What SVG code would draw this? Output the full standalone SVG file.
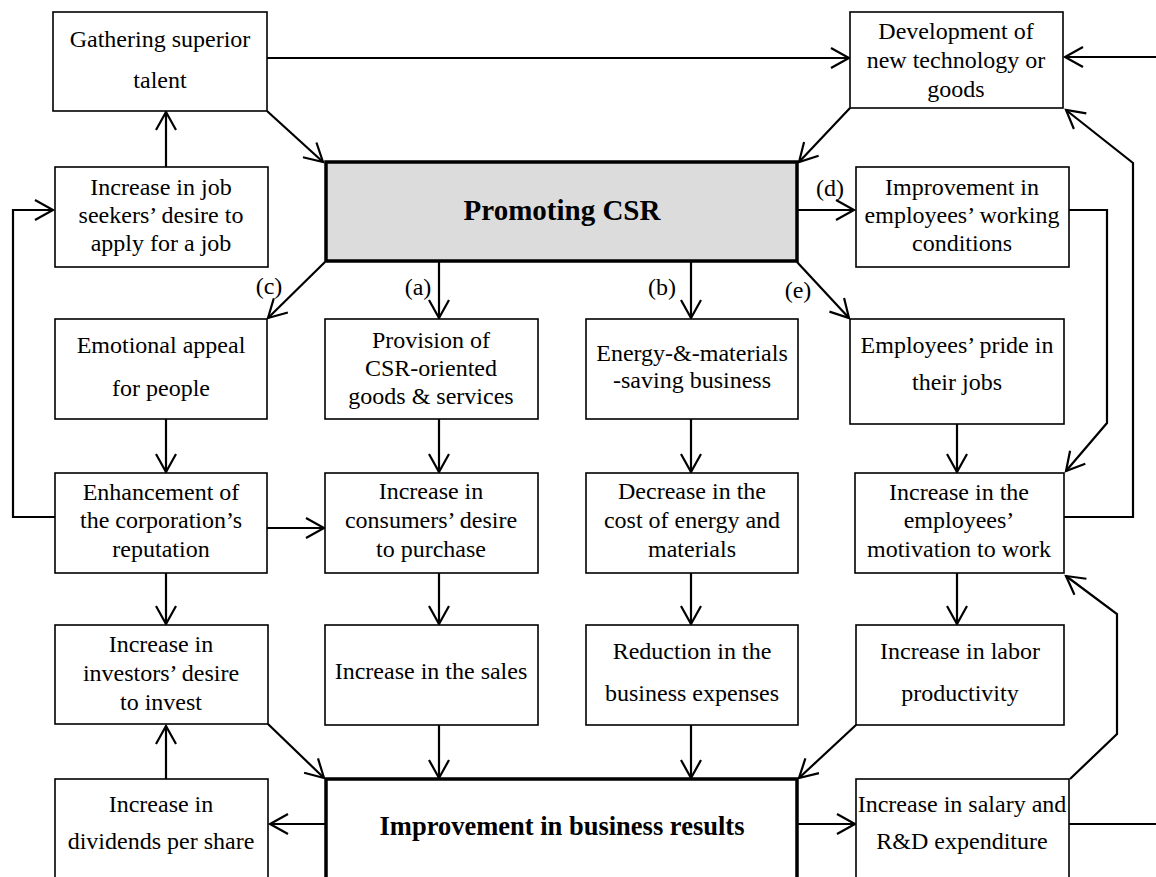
<svg xmlns="http://www.w3.org/2000/svg" width="1156" height="877" viewBox="0 0 1156 877">
<defs>
<marker id="ah" markerUnits="userSpaceOnUse" markerWidth="24" markerHeight="24" refX="19" refY="12" orient="auto" overflow="visible">
<path d="M1,2 L19,12 L1,22" fill="none" stroke="#000" stroke-width="2.2" stroke-linejoin="miter"/>
</marker>
<style>
.box{fill:#fff;stroke:#000;stroke-width:1.6}
.main{stroke:#000;stroke-width:3.5}
.t{font-family:"Liberation Serif","Times New Roman",serif;font-size:24px;fill:#000;text-anchor:middle}
.b{font-family:"Liberation Serif","Times New Roman",serif;font-weight:bold;fill:#000;text-anchor:middle}
.lab{font-family:"Liberation Serif","Times New Roman",serif;font-size:24px;fill:#000;text-anchor:middle}
.c{fill:none;stroke:#000;stroke-width:2.2}
.a{marker-end:url(#ah)}
</style>
</defs>
<rect width="1156" height="877" fill="#fff"/>

<g id="connectors">
<line class="c a" x1="267" y1="58" x2="849" y2="58"/>
<line class="c a" x1="1156" y1="57" x2="1065" y2="57"/>
<line class="c a" x1="267" y1="111" x2="323" y2="162"/>
<line class="c a" x1="850" y1="108" x2="799" y2="162"/>
<line class="c a" x1="166" y1="167" x2="166" y2="112"/>
<polyline class="c a" points="55,517 13,517 13,210 53,210"/>
<line class="c a" x1="797" y1="210" x2="854" y2="210"/>
<polyline class="c a" points="1069,210 1107,210 1107,423 1066,471"/>
<polyline class="c a" points="1064,517 1133,517 1133,163 1066,110"/>
<line class="c a" x1="325" y1="262" x2="268" y2="318"/>
<line class="c a" x1="439" y1="262" x2="439" y2="318"/>
<line class="c a" x1="691" y1="262" x2="691" y2="318"/>
<line class="c a" x1="797" y1="262" x2="849" y2="318"/>
<line class="c a" x1="166" y1="419" x2="166" y2="472"/>
<line class="c a" x1="439" y1="419" x2="439" y2="472"/>
<line class="c a" x1="691" y1="419" x2="691" y2="472"/>
<line class="c a" x1="957" y1="424" x2="957" y2="472"/>
<line class="c a" x1="267" y1="528" x2="324" y2="528"/>
<line class="c a" x1="166" y1="573" x2="166" y2="624"/>
<line class="c a" x1="439" y1="573" x2="439" y2="624"/>
<line class="c a" x1="691" y1="573" x2="691" y2="624"/>
<line class="c a" x1="957" y1="573" x2="957" y2="624"/>
<line class="c a" x1="268" y1="724" x2="324" y2="778"/>
<line class="c a" x1="439" y1="725" x2="439" y2="778"/>
<line class="c a" x1="691" y1="725" x2="691" y2="778"/>
<line class="c a" x1="856" y1="725" x2="799" y2="778"/>
<line class="c a" x1="166" y1="779" x2="166" y2="726"/>
<line class="c a" x1="325" y1="824" x2="270" y2="824"/>
<line class="c a" x1="797" y1="824" x2="855" y2="824"/>
<polyline class="c a" points="1070,779 1117,734 1117,614 1066,576"/>
<line class="c" x1="1069" y1="824" x2="1156" y2="824"/>
</g>

<g class="lab" id="labels">
<text x="269" y="294">(c)</text>
<text x="418" y="295">(a)</text>
<text x="662" y="295">(b)</text>
<text x="830" y="196">(d)</text>
<text x="798" y="298">(e)</text>
</g>

<g id="n-gathering">
<rect class="box" x="53" y="12" width="214" height="99"/>
<text class="t" x="160" y="47">Gathering superior</text>
<text class="t" x="160" y="88">talent</text>
</g>
<g id="n-development">
<rect class="box" x="850" y="12" width="213" height="96"/>
<text class="t" x="956" y="39">Development of</text>
<text class="t" x="956" y="68">new technology or</text>
<text class="t" x="956" y="97">goods</text>
</g>
<g id="n-jobseekers">
<rect class="box" x="55" y="167" width="213" height="100"/>
<text class="t" x="161" y="195">Increase in job</text>
<text class="t" x="161" y="223">seekers’ desire to</text>
<text class="t" x="161" y="251">apply for a job</text>
</g>
<g id="n-promoting">
<rect class="main" x="326" y="162" width="471" height="99" fill="#dcdcdc"/>
<text class="b" x="562" y="220" font-size="29">Promoting CSR</text>
</g>
<g id="n-working">
<rect class="box" x="856" y="167" width="213" height="100"/>
<text class="t" x="962" y="195">Improvement in</text>
<text class="t" x="962" y="223">employees’ working</text>
<text class="t" x="962" y="251">conditions</text>
</g>
<g id="n-emotional">
<rect class="box" x="55" y="319" width="212" height="100"/>
<text class="t" x="161" y="353">Emotional appeal</text>
<text class="t" x="161" y="396">for people</text>
</g>
<g id="n-provision">
<rect class="box" x="325" y="319" width="213" height="100"/>
<text class="t" x="431" y="348">Provision of</text>
<text class="t" x="431" y="376">CSR-oriented</text>
<text class="t" x="431" y="404">goods &amp; services</text>
</g>
<g id="n-energy">
<rect class="box" x="586" y="319" width="212" height="100"/>
<text class="t" x="692" y="361">Energy-&amp;-materials</text>
<text class="t" x="692" y="388">-saving business</text>
</g>
<g id="n-pride">
<rect class="box" x="850" y="319" width="214" height="105"/>
<text class="t" x="957" y="353">Employees’ pride in</text>
<text class="t" x="957" y="390">their jobs</text>
</g>
<g id="n-reputation">
<rect class="box" x="55" y="473" width="212" height="100"/>
<text class="t" x="161" y="500">Enhancement of</text>
<text class="t" x="161" y="528">the corporation’s</text>
<text class="t" x="161" y="557">reputation</text>
</g>
<g id="n-consumers">
<rect class="box" x="325" y="473" width="213" height="100"/>
<text class="t" x="431" y="499">Increase in</text>
<text class="t" x="431" y="528">consumers’ desire</text>
<text class="t" x="431" y="557">to purchase</text>
</g>
<g id="n-cost">
<rect class="box" x="586" y="473" width="212" height="100"/>
<text class="t" x="692" y="499">Decrease in the</text>
<text class="t" x="692" y="528">cost of energy and</text>
<text class="t" x="692" y="557">materials</text>
</g>
<g id="n-motivation">
<rect class="box" x="855" y="473" width="209" height="100"/>
<text class="t" x="959" y="500">Increase in the</text>
<text class="t" x="959" y="528">employees’</text>
<text class="t" x="959" y="557">motivation to work</text>
</g>
<g id="n-investors">
<rect class="box" x="55" y="625" width="213" height="99"/>
<text class="t" x="161" y="652">Increase in</text>
<text class="t" x="161" y="681">investors’ desire</text>
<text class="t" x="161" y="710">to invest</text>
</g>
<g id="n-sales">
<rect class="box" x="325" y="625" width="213" height="100"/>
<text class="t" x="431" y="679">Increase in the sales</text>
</g>
<g id="n-expenses">
<rect class="box" x="586" y="625" width="212" height="100"/>
<text class="t" x="692" y="659">Reduction in the</text>
<text class="t" x="692" y="701">business expenses</text>
</g>
<g id="n-labor">
<rect class="box" x="856" y="625" width="208" height="100"/>
<text class="t" x="960" y="659">Increase in labor</text>
<text class="t" x="960" y="701">productivity</text>
</g>
<g id="n-dividends">
<rect class="box" x="55" y="779" width="213" height="110"/>
<text class="t" x="161" y="812">Increase in</text>
<text class="t" x="161" y="849">dividends per share</text>
</g>
<g id="n-results">
<rect class="main" x="326" y="779" width="471" height="110" fill="#fff"/>
<text class="b" x="562" y="835" font-size="26.5">Improvement in business results</text>
</g>
<g id="n-salary">
<rect class="box" x="856" y="779" width="213" height="110"/>
<text class="t" x="962" y="812">Increase in salary and</text>
<text class="t" x="962" y="849">R&amp;D expenditure</text>
</g>
</svg>
